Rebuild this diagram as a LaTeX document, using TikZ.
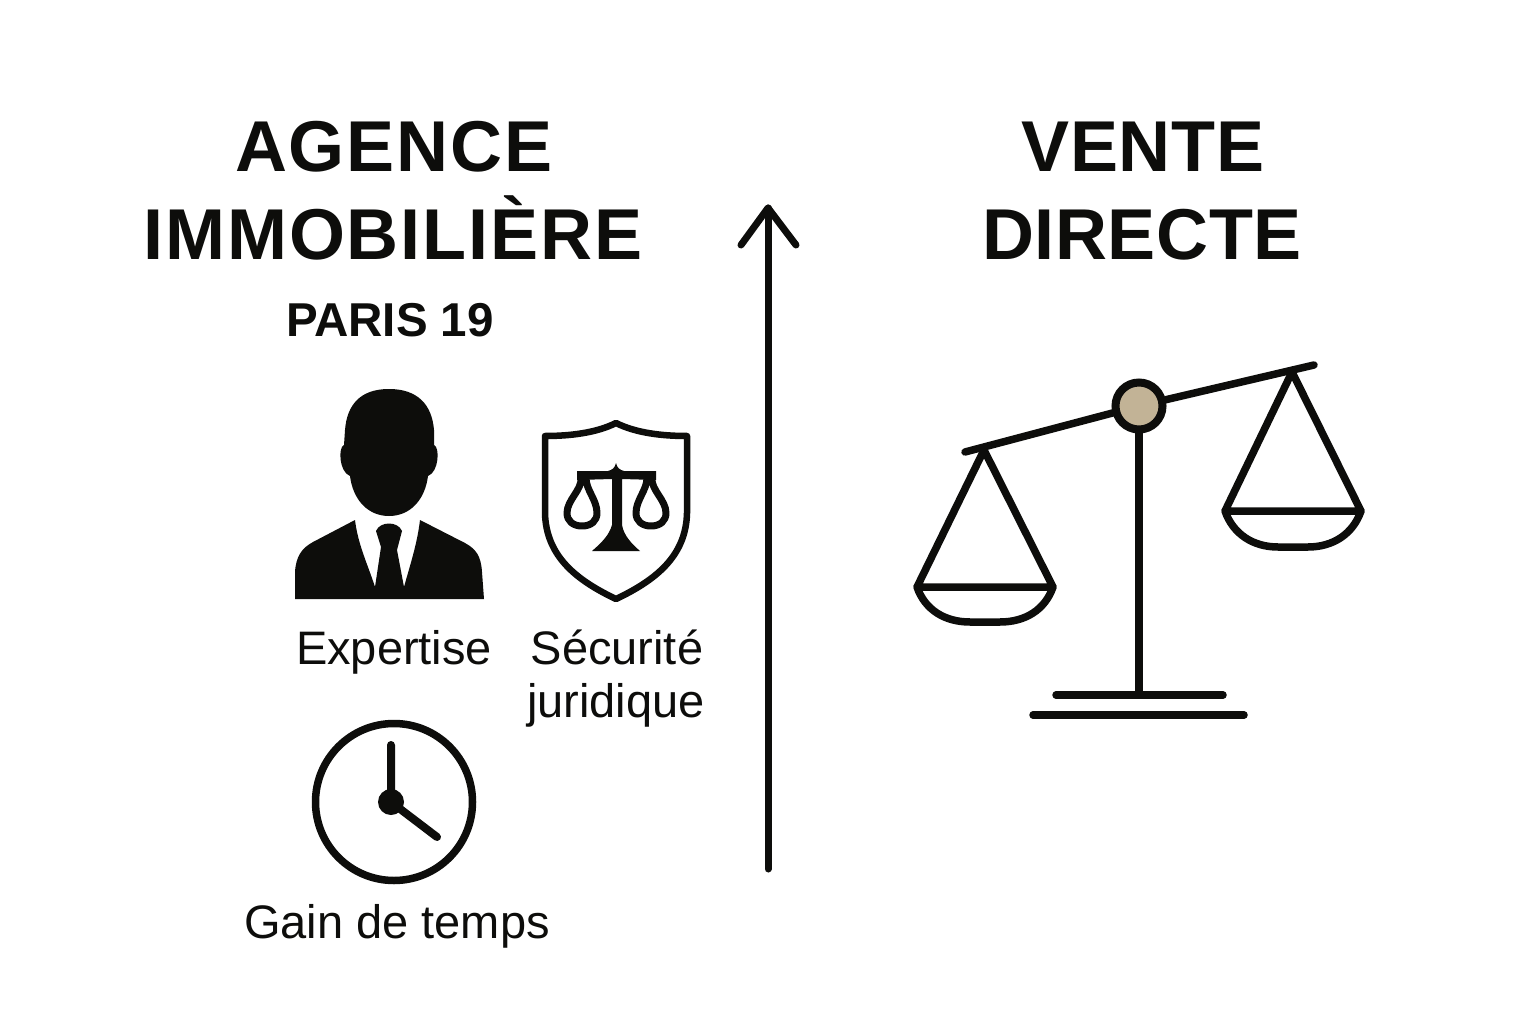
\documentclass[tikz,border=0pt]{standalone}
\usepackage{fontspec}
\setmainfont{Liberation Sans}
\definecolor{inkc}{HTML}{0D0D0B}
\definecolor{sand}{HTML}{C2B396}
\begin{document}
\begin{tikzpicture}[x=1pt,y=-1pt,
 ink/.style={draw=inkc,line width=7.5pt,line cap=round,line join=round},
 thin/.style={draw=inkc,line width=6.5pt,line join=round},
 lbl/.style={inner sep=0pt,anchor=base,font=\fontsize{47}{47}\selectfont,text=inkc},
 sub/.style={inner sep=0pt,anchor=base,font=\bfseries\fontsize{47.5}{47.5}\selectfont,text=inkc},
 ttl/.style={inner sep=0pt,anchor=base,font=\bfseries\fontsize{72}{72}\selectfont\addfontfeature{LetterSpace=2.7},text=inkc},
 ttlb/.style={inner sep=0pt,anchor=base,font=\bfseries\fontsize{72}{72}\selectfont\addfontfeature{LetterSpace=0.8},text=inkc}]
\useasboundingbox (0,0) rectangle (1536,1024);
\fill[white] (0,0) rectangle (1536,1024);
% titles
\node[ttl] (t1) at (394,172) {AGENCE};
\node[ttl] (t2) at (393,260) {IMMOBILIÈRE};
\node[sub] (t3) at (390,336) {PARIS 19};
\node[ttlb] (t4) at (1143,172) {VENTE};
\node[ttlb] (t5) at (1142,260) {DIRECTE};
\node[lbl] (l1) at (394,664) {Expertise};
\node[lbl] (l2) at (617,664) {Sécurité};
\node[lbl] (l3) at (616,717) {juridique};
\node[lbl] (l4) at (397,938) {Gain de temps};
% central arrow
\coordinate (a0) at (768,869); \coordinate (a1) at (768,208);
\draw[ink,line width=7pt] (a0)--(a1);
\draw[ink,line width=7pt] (741,245)--(a1)--(796,245);
% person
\fill[inkc] (389,389) .. controls (360,389) and (347,405) .. (345,430)
  -- (344,445) .. controls (338,447) and (339,472) .. (350,476)
  .. controls (353,500) and (368,516) .. (389,516)
  .. controls (410,516) and (425,500) .. (428,476)
  .. controls (439,472) and (440,447) .. (434,445) -- (434,430)
  .. controls (432,405) and (418,389) .. (389,389) -- cycle;
\fill[inkc] (295,599) -- (295,572) .. controls (296,556) and (302,548) .. (313,542)
  -- (355,520) .. controls (358,545) and (368,565) .. (375,587)
  -- (381,547) -- (376,531) .. controls (380,521) and (398,521) .. (402,531)
  -- (397,550) -- (404,587) .. controls (410,565) and (417,545) .. (420,520)
  -- (465,543) .. controls (476,549) and (481,556) .. (482,572) -- (484,599) -- cycle;
% shield
\draw[thin] (616,423) .. controls (596,433) and (570,436) .. (545,436) -- (545,513)
  .. controls (546,556) and (576,580) .. (616,599)
  .. controls (656,580) and (686,556) .. (687,513) -- (687,436)
  .. controls (662,436) and (636,433) .. (616,423) -- cycle;
% small balance inside shield
\fill[inkc] (577,471) -- (608,471) .. controls (612,470) and (615,468) .. (616,463)
  .. controls (617,468) and (620,470) .. (624,471) -- (656,471) -- (656,480) -- (622,479)
  -- (622,525) .. controls (624,536) and (632,544) .. (640,551) -- (592,551)
  .. controls (600,544) and (609,536) .. (612,525) -- (612,479) -- (577,480) -- cycle;
\draw[draw=inkc,line width=7pt,line join=round] (581,478) .. controls (582,490) and (567,500) .. (567,513)
  .. controls (567,521) and (573,526) .. (582,526)
  .. controls (591,526) and (597,521) .. (597,513)
  .. controls (597,500) and (586,490) .. (586,478);
\draw[draw=inkc,line width=7pt,line join=round] (647,478) .. controls (647,490) and (636,500) .. (636,513)
  .. controls (636,521) and (642,526) .. (651,526)
  .. controls (660,526) and (666,521) .. (666,513)
  .. controls (666,500) and (651,490) .. (652,478);
% clock
\node[circle,draw=inkc,line width=7.5pt,minimum size=157pt,inner sep=0pt] (clk) at (394,802) {};
\coordinate (c0) at (391,802);
\draw[ink,line width=8pt] (391,745) -- (c0) -- (437,837);
\fill[inkc] (c0) circle (13);
% big balance
\node[circle,draw=inkc,fill=sand,line width=8pt,minimum size=47pt,inner sep=0pt] (piv) at (1139,406) {};
\coordinate (bl) at (965,452); \coordinate (br) at (1314,365);
\draw[ink] (bl) -- (piv); \draw[ink] (piv) -- (br);
\coordinate (bb) at (1139,693);
\draw[ink] (piv) -- (bb);
\draw[ink] (1056,695) -- (1223,695);
\draw[ink] (1033,715) -- (1244,715);
\draw[ink] (917,587) -- (984,450) -- (1053,587) -- cycle;
\draw[ink] (917,587) .. controls (925,610) and (945,622) .. (970,622) -- (1000,622) .. controls (1025,622) and (1045,610) .. (1053,587);
\draw[ink] (1225,511) -- (1292,372) -- (1361,511) -- cycle;
\draw[ink] (1225,511) .. controls (1233,534) and (1253,547) .. (1278,547) -- (1308,547) .. controls (1333,547) and (1353,534) .. (1361,511);
\end{tikzpicture}
\end{document}
